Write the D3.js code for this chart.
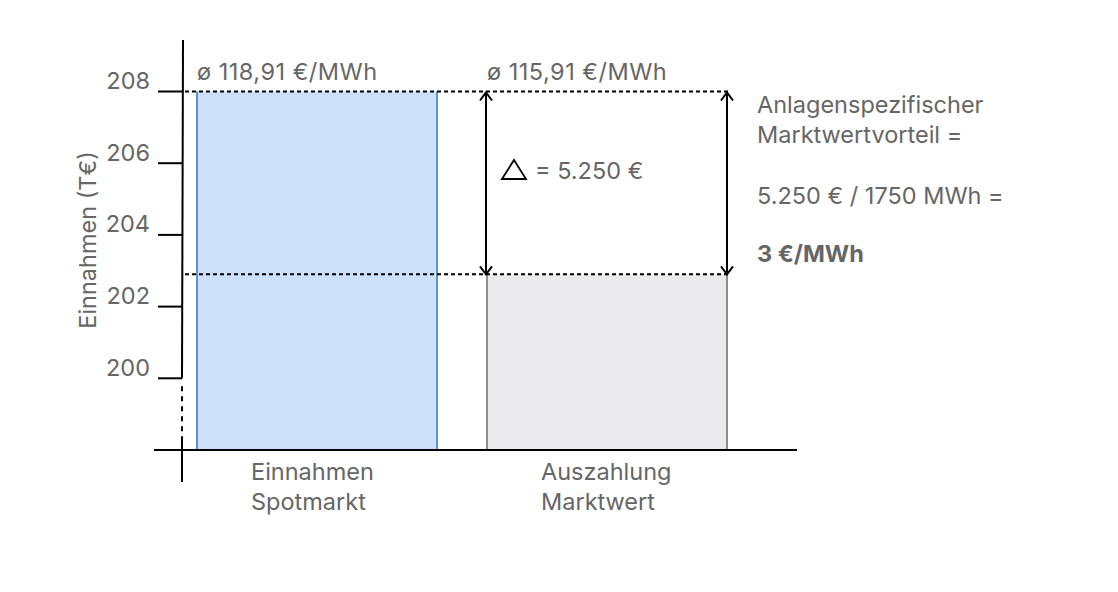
<!DOCTYPE html>
<html>
<head>
<meta charset="utf-8">
<script src="https://cdn.jsdelivr.net/npm/d3@7"></script>
<style>
  body { margin: 0; background: #fff; }
  text { font-family: Inter, "Noto Sans", sans-serif; fill: #666; }
</style>
</head>
<body>
<div id="chart"></div>
<script>
// données du graphique
const categories = ["Einnahmen Spotmarkt", "Auszahlung Marktwert"];
const labelLines = [["Einnahmen", "Spotmarkt"], ["Auszahlung", "Marktwert"]];
const revenues = [208, 202.9];          // T€
const avgPrices = [118.91, 115.91];     // €/MWh
const yTicks = [200, 202, 204, 206, 208];
const deltaLabel = "= 5.250 €";
const noteLines = ["Anlagenspezifischer", "Marktwertvorteil =", "", "5.250 € / 1750 MWh =", "", "3 €/MWh"];

const width = 1118, height = 592;
const fs = 23.5;
const fills = ["#cde0fa", "#eaeaec"];
const strokes = ["#5f95bf", "#8e8e8e"];

const svg = d3.select("#chart").append("svg")
    .attr("width", width)
    .attr("height", height);

// échelles
const x = d3.scaleBand()
    .domain(categories)
    .range([172, 752])
    .paddingInner(50 / 290)
    .paddingOuter(25 / 290);

const y = d3.scaleLinear()
    .domain([198, 208])
    .range([450, 91.5]);

const axisX = 182;
const fmt = v => "ø " + d3.format(".2f")(v).replace(".", ",") + " €/MWh";

// barres
svg.selectAll("rect.bar")
    .data(revenues)
    .enter()
    .append("rect")
    .attr("class", "bar")
    .attr("x", (d, i) => x(categories[i]))
    .attr("y", d => y(d))
    .attr("width", x.bandwidth())
    .attr("height", d => y(198) - y(d))
    .attr("fill", (d, i) => fills[i]);

// bords latéraux des barres
revenues.forEach((d, i) => {
    const x0 = x(categories[i]), x1 = x0 + x.bandwidth();
    [x0, x1].forEach(xx => {
        svg.append("line")
            .attr("x1", xx).attr("x2", xx)
            .attr("y1", y(d)).attr("y2", y(198))
            .attr("stroke", strokes[i])
            .attr("stroke-width", 2);
    });
});

// lignes pointillées horizontales
revenues.forEach(d => {
    svg.append("line")
        .attr("x1", axisX + 3).attr("x2", x(categories[1]) + x.bandwidth() + 1)
        .attr("y1", y(d)).attr("y2", y(d))
        .attr("stroke", "#000")
        .attr("stroke-width", 2)
        .attr("stroke-dasharray", "4,3");
});

// axe Y (trait brisé)
svg.append("line")
    .attr("x1", axisX + 1).attr("x2", axisX)
    .attr("y1", 40).attr("y2", y(200))
    .attr("stroke", "#000").attr("stroke-width", 2);
svg.append("line")
    .attr("x1", axisX).attr("x2", axisX)
    .attr("y1", y(200) + 8).attr("y2", 440)
    .attr("stroke", "#000").attr("stroke-width", 2)
    .attr("stroke-dasharray", "5,5");
svg.append("line")
    .attr("x1", axisX).attr("x2", axisX)
    .attr("y1", 438).attr("y2", 482)
    .attr("stroke", "#000").attr("stroke-width", 2);

// graduations
svg.selectAll("line.tick")
    .data(yTicks)
    .enter()
    .append("line")
    .attr("class", "tick")
    .attr("x1", 158).attr("x2", axisX)
    .attr("y1", d => y(d)).attr("y2", d => y(d))
    .attr("stroke", "#000").attr("stroke-width", 2);

svg.selectAll("text.tick")
    .data(yTicks)
    .enter()
    .append("text")
    .attr("class", "tick")
    .attr("x", 150)
    .attr("y", d => y(d) - 2.5)
    .attr("text-anchor", "end")
    .attr("font-size", fs)
    .text(d => d);

// titre axe Y
svg.append("text")
    .attr("transform", "translate(96,240) rotate(-90)")
    .attr("text-anchor", "middle")
    .attr("font-size", fs)
    .text("Einnahmen (T€)");

// axe X
svg.append("line")
    .attr("x1", 154).attr("x2", 797)
    .attr("y1", y(198)).attr("y2", y(198))
    .attr("stroke", "#000").attr("stroke-width", 2);

// libellés des catégories
labelLines.forEach((lines, i) => {
    const t = svg.append("text")
        .attr("font-size", fs);
    lines.forEach((l, j) => {
        t.append("tspan")
            .attr("x", x(categories[i]) + x.bandwidth() / 2 - 66)
            .attr("y", 480 + j * 30)
            .text(l);
    });
});

// prix moyens au-dessus des barres
svg.selectAll("text.price")
    .data(avgPrices)
    .enter()
    .append("text")
    .attr("class", "price")
    .attr("x", (d, i) => x(categories[i]))
    .attr("y", 80)
    .attr("font-size", fs)
    .attr("letter-spacing", 0.5)
    .text(fmt);

// flèches doubles
const arrowXs = [x(categories[1]) - 1, x(categories[1]) + x.bandwidth()];
arrowXs.forEach(ax => {
    const yTop = y(revenues[0]) + 1, yBot = y(revenues[1]);
    svg.append("line")
        .attr("x1", ax).attr("x2", ax)
        .attr("y1", yTop).attr("y2", yBot)
        .attr("stroke", "#000").attr("stroke-width", 2);
    svg.append("path")
        .attr("d", `M${ax - 6},${yTop + 8}L${ax},${yTop}L${ax + 6},${yTop + 8}`)
        .attr("fill", "none").attr("stroke", "#000").attr("stroke-width", 2);
    svg.append("path")
        .attr("d", `M${ax - 6},${yBot - 8}L${ax},${yBot}L${ax + 6},${yBot - 8}`)
        .attr("fill", "none").attr("stroke", "#000").attr("stroke-width", 2);
});

// delta
svg.append("path")
    .attr("d", "M502,179L514,160L526,179Z")
    .attr("fill", "none")
    .attr("stroke", "#000")
    .attr("stroke-width", 1.8)
    .attr("stroke-linejoin", "miter");
svg.append("text")
    .attr("x", 535)
    .attr("y", 179)
    .attr("font-size", fs)
    .text(deltaLabel);

// texte explicatif à droite
const noteY = [113, 143, 173, 204, 233, 262];
noteLines.forEach((l, i) => {
    if (!l) return;
    svg.append("text")
        .attr("x", 757)
        .attr("y", noteY[i])
        .attr("font-size", fs)
        .attr("font-weight", i === noteLines.length - 1 ? 700 : 400)
        .text(l);
});
</script>
</body>
</html>
